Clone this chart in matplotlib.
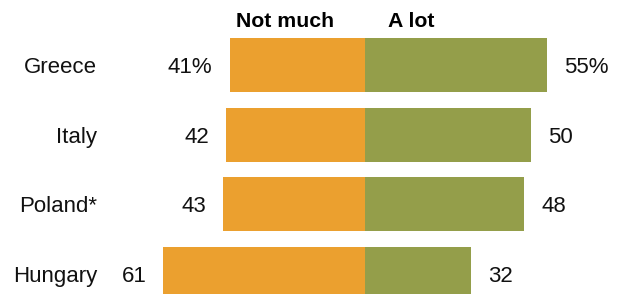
import matplotlib
matplotlib.use("Agg")
import matplotlib.pyplot as plt

countries = ["Greece", "Italy", "Poland*", "Hungary"]
not_much = [41, 42, 43, 61]
a_lot = [55, 50, 48, 32]
headers = ["Not much", "A lot"]

orange = "#EBA02F"
green = "#949E4A"

plt.rcParams['font.family'] = ['Liberation Sans', 'DejaVu Sans']

fig = plt.figure(figsize=(6.17, 2.94), dpi=100)
ax = fig.add_axes([0, 0, 1, 1])

scale = 3.31  # px per unit
cx = 365.3
ax.set_xlim(-cx / scale, (617 - cx) / scale)
ax.set_ylim((294 - 65.2) / 69.47, -65.2 / 69.47)
ax.axis("off")

ys = list(range(len(countries)))
h = 0.774
ax.barh(ys, [-v for v in not_much], height=h, color=orange, left=0)
ax.barh(ys, a_lot, height=h, color=green, left=0)

gap = 17 / scale
base = 8.1 / 69.47
fs = 16
for i, (c, nm, al) in enumerate(zip(countries, not_much, a_lot)):
    suf = "%" if i == 0 else ""
    ax.text(-nm - gap, i + base, f"{nm}{suf}", ha="right", va="baseline", fontsize=fs, color="#111111")
    ax.text(al + gap, i + base, f"{al}{suf}", ha="left", va="baseline", fontsize=fs, color="#111111")
    ax.text((97 - cx) / scale, i + base, c, ha="right", va="baseline", fontsize=fs, color="#111111")

hy = (26.7 - 65.2) / 69.47
ax.text((235.7 - cx) / scale, hy, headers[0], ha="left", va="baseline", fontsize=15.3, fontweight="bold", color="#000000")
ax.text((388.3 - cx) / scale, hy, headers[1], ha="left", va="baseline", fontsize=15.3, fontweight="bold", color="#000000")

fig.savefig("out.png", dpi=100)
